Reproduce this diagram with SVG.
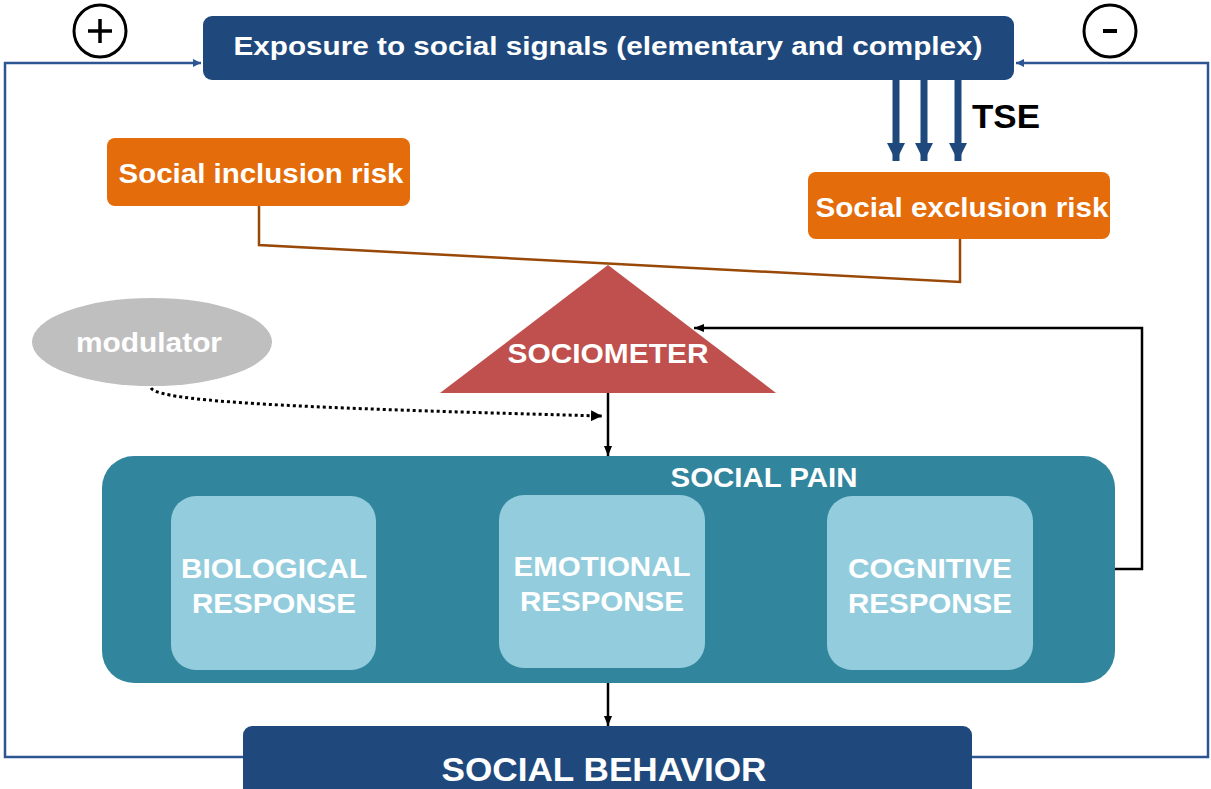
<svg xmlns="http://www.w3.org/2000/svg" width="1211" height="789" viewBox="0 0 1211 789">
<defs>
<style>
text{font-family:"Liberation Sans",Arial,sans-serif;font-weight:bold;text-anchor:middle}
.w{fill:#fff}
.inner{fill:#93cddd}
.loop{fill:none;stroke:#2c5592;stroke-width:2.5}
.blk{fill:none;stroke:#000;stroke-width:2.5}
</style>
<marker id="ab" viewBox="0 0 10 10" refX="10" refY="5" markerWidth="8" markerHeight="8" markerUnits="userSpaceOnUse" orient="auto"><path d="M0,0L10,5L0,10z" fill="#2c5592"/></marker>
<marker id="ak" viewBox="0 0 10 10" refX="10" refY="5" markerWidth="10" markerHeight="10" markerUnits="userSpaceOnUse" orient="auto"><path d="M0,1L10,5L0,9z" fill="#000"/></marker>
<marker id="ak2" viewBox="0 0 10 10" refX="10" refY="5" markerWidth="11" markerHeight="11" markerUnits="userSpaceOnUse" orient="auto"><path d="M0,0L10,5L0,10z" fill="#000"/></marker>
<marker id="at" viewBox="0 0 10 10" refX="10" refY="5" markerWidth="18" markerHeight="19" markerUnits="userSpaceOnUse" orient="auto"><path d="M0,0L10,5L0,10z" fill="#1f497d"/></marker>
</defs>

<g id="connectors">
<polyline class="loop" points="243,757 5,757 5,63 201,63" marker-end="url(#ab)"/>
<polyline class="loop" points="972,757 1208,757 1208,63 1016,63" marker-end="url(#ab)"/>
<polyline points="259,206 259,245 960,282 960,239" fill="none" stroke="#984807" stroke-width="2.5"/>
<line x1="896" y1="80" x2="896" y2="161" stroke="#1f497d" stroke-width="7" marker-end="url(#at)"/>
<line x1="924" y1="80" x2="924" y2="161" stroke="#1f497d" stroke-width="7" marker-end="url(#at)"/>
<line x1="958" y1="80" x2="958" y2="161" stroke="#1f497d" stroke-width="7" marker-end="url(#at)"/>
<path d="M151,388 C160,402 300,408 602,416" fill="none" stroke="#000" stroke-width="3" stroke-dasharray="3,3" marker-end="url(#ak2)"/>
<line class="blk" x1="608" y1="393" x2="608" y2="456" marker-end="url(#ak)"/>
<line class="blk" x1="608" y1="683" x2="608" y2="726" marker-end="url(#ak)"/>
<polyline class="blk" points="1115,569 1142,569 1142,328 694,328" stroke-width="3" marker-end="url(#ak)"/>
</g>

<g id="plus"><circle cx="100" cy="31" r="26" fill="#fff" stroke="#000" stroke-width="3"/><path d="M88,31H112M100,19V43" stroke="#000" stroke-width="3.5"/></g>
<g id="minus"><circle cx="1110" cy="31" r="26" fill="#fff" stroke="#000" stroke-width="3"/><path d="M1103,31H1117" stroke="#000" stroke-width="4"/></g>

<g id="exposure"><rect x="203" y="16" width="811" height="64" rx="9" fill="#1f497d"/><text class="w" x="608" y="55" font-size="26" textLength="749" lengthAdjust="spacingAndGlyphs">Exposure to social signals (elementary and complex)</text></g>
<g id="tse"><text x="1006" y="128" font-size="33" fill="#000" textLength="68" lengthAdjust="spacingAndGlyphs">TSE</text></g>
<g id="inclusion"><rect x="107" y="138" width="303" height="68" rx="8" fill="#e46c0a"/><text class="w" x="261" y="183" font-size="28" textLength="285" lengthAdjust="spacingAndGlyphs">Social inclusion risk</text></g>
<g id="exclusion"><rect x="808" y="172" width="302" height="67" rx="8" fill="#e46c0a"/><text class="w" x="962" y="217" font-size="28" textLength="293" lengthAdjust="spacingAndGlyphs">Social exclusion risk</text></g>
<g id="sociometer"><polygon points="608,265 776,393 440,393" fill="#c0504d"/><text class="w" x="608" y="363" font-size="28" textLength="201" lengthAdjust="spacingAndGlyphs">SOCIOMETER</text></g>
<g id="modulator"><ellipse cx="152" cy="342" rx="120" ry="44" fill="#bfbfbf"/><text class="w" x="149" y="352" font-size="28" textLength="146" lengthAdjust="spacingAndGlyphs">modulator</text></g>
<g id="socialpain"><rect x="102" y="456" width="1013" height="227" rx="32" fill="#31859c"/><text class="w" x="764" y="487" font-size="27" textLength="187" lengthAdjust="spacingAndGlyphs">SOCIAL PAIN</text></g>
<g id="biological"><rect class="inner" x="171" y="496" width="205" height="174" rx="25"/><text class="w" x="274" y="578" font-size="28" textLength="186" lengthAdjust="spacingAndGlyphs">BIOLOGICAL</text><text class="w" x="274" y="613" font-size="28" textLength="164" lengthAdjust="spacingAndGlyphs">RESPONSE</text></g>
<g id="emotional"><rect class="inner" x="499" y="495" width="206" height="173" rx="25"/><text class="w" x="602" y="576" font-size="28" textLength="177" lengthAdjust="spacingAndGlyphs">EMOTIONAL</text><text class="w" x="602" y="611" font-size="28" textLength="164" lengthAdjust="spacingAndGlyphs">RESPONSE</text></g>
<g id="cognitive"><rect class="inner" x="827" y="496" width="206" height="174" rx="25"/><text class="w" x="930" y="578" font-size="28" textLength="164" lengthAdjust="spacingAndGlyphs">COGNITIVE</text><text class="w" x="930" y="613" font-size="28" textLength="164" lengthAdjust="spacingAndGlyphs">RESPONSE</text></g>
<g id="behavior"><rect x="243" y="726" width="729" height="80" rx="9" fill="#1f497d"/><text class="w" x="604" y="781" font-size="34" textLength="325" lengthAdjust="spacingAndGlyphs">SOCIAL BEHAVIOR</text></g>
</svg>
